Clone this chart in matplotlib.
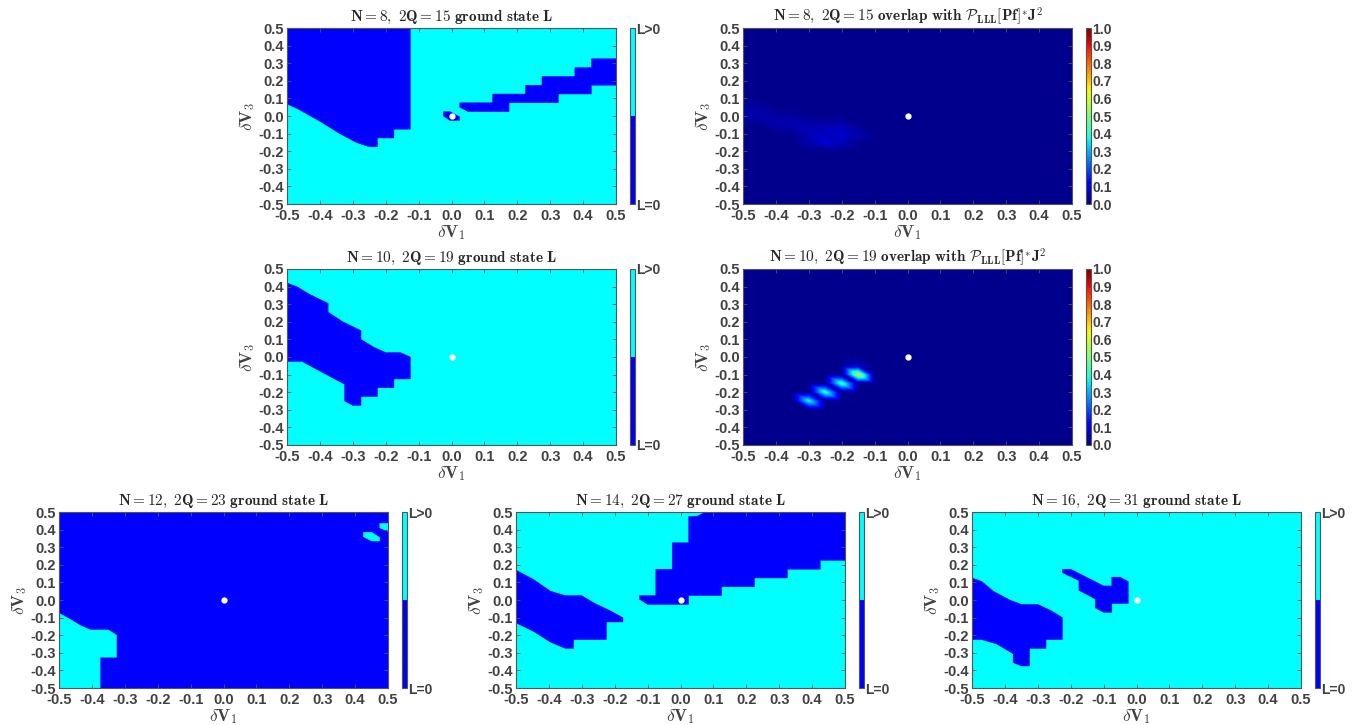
import numpy as np
import matplotlib
matplotlib.use("Agg")
import matplotlib.pyplot as plt
import matplotlib.tri as mtri
from matplotlib.colors import ListedColormap, Normalize
from matplotlib.cm import ScalarMappable

plt.rcParams['mathtext.fontset'] = 'cm'
plt.rcParams['axes.unicode_minus'] = False
plt.rcParams['font.family'] = 'Liberation Sans'
plt.rcParams['font.weight'] = 'bold'

# ---------------- data ----------------
TICKS = np.round(np.arange(-0.5, 0.501, 0.1), 1) + 0.0
CB_TICKS = np.round(np.arange(0.0, 1.001, 0.1), 1) + 0.0
L_COLORS = ['#0000ff', '#00ffff']       # L=0, L>0
ORIGIN = (0.0, 0.0)                     # reference point (white dot)

# ground state maps: boundaries of the minority phase, (dV1, dV3) vertices
# N=8, 2Q=15 : L>0 background, L=0 patches
n8_base = 1
n8_patches = [
    [(-0.5, 0.5), (-0.125, 0.5), (-0.125, -0.075), (-0.175, -0.075), (-0.175, -0.125),
     (-0.225, -0.125), (-0.225, -0.175), (-0.25, -0.175), (-0.29, -0.15), (-0.34, -0.1),
     (-0.4, -0.03), (-0.47, 0.043), (-0.5, 0.068)],
    [(0.025, 0.075), (0.125, 0.075), (0.125, 0.125), (0.225, 0.125), (0.225, 0.175),
     (0.275, 0.175), (0.275, 0.225), (0.375, 0.225), (0.375, 0.275), (0.425, 0.275),
     (0.425, 0.325), (0.5, 0.325), (0.5, 0.175), (0.425, 0.175), (0.425, 0.125),
     (0.325, 0.125), (0.325, 0.075), (0.175, 0.075), (0.175, 0.025), (0.05, 0.025),
     (0.025, 0.05)],
    [(-0.025, 0.025), (-0.005, 0.025), (0.025, -0.005), (0.025, -0.025), (-0.005, -0.025),
     (-0.025, 0.0)],
]
# N=10, 2Q=19
n10_base = 1
n10_patches = [
    [(-0.5, 0.42), (-0.47, 0.40), (-0.43, 0.355), (-0.375, 0.305), (-0.375, 0.255),
     (-0.33, 0.2), (-0.275, 0.15), (-0.275, 0.1), (-0.235, 0.055), (-0.2, 0.025),
     (-0.155, 0.025), (-0.125, 0.0), (-0.125, -0.125), (-0.175, -0.125), (-0.175, -0.175),
     (-0.225, -0.175), (-0.225, -0.225), (-0.275, -0.225), (-0.275, -0.275), (-0.3, -0.275),
     (-0.325, -0.25), (-0.325, -0.155), (-0.38, -0.1), (-0.455, -0.025), (-0.5, -0.025)],
]
# N=12, 2Q=23 : L=0 background, L>0 patches
n12_base = 0
n12_patches = [
    [(-0.5, -0.075), (-0.47, -0.105), (-0.435, -0.145), (-0.405, -0.17), (-0.35, -0.17),
     (-0.325, -0.2), (-0.325, -0.325), (-0.375, -0.325), (-0.375, -0.5), (-0.5, -0.5)],
    [(0.425, 0.385), (0.45, 0.385), (0.475, 0.355), (0.475, 0.335), (0.45, 0.335),
     (0.425, 0.36)],
    [(0.475, 0.435), (0.5, 0.435), (0.5, 0.39), (0.475, 0.41)],
]
# N=14, 2Q=27
n14_base = 1
n14_patches = [
    [(-0.5, 0.17), (-0.445, 0.115), (-0.395, 0.05), (-0.35, 0.025), (-0.3, 0.025),
     (-0.26, -0.02), (-0.22, -0.055), (-0.175, -0.1), (-0.175, -0.125), (-0.225, -0.125),
     (-0.225, -0.225), (-0.325, -0.225), (-0.325, -0.275), (-0.35, -0.275), (-0.395, -0.24),
     (-0.445, -0.18), (-0.5, -0.13)],
    [(0.075, 0.5), (0.05, 0.475), (0.025, 0.475), (0.025, 0.325), (-0.025, 0.325),
     (-0.025, 0.175), (-0.075, 0.175), (-0.075, 0.025), (-0.125, 0.025), (-0.125, 0.005),
     (-0.1, -0.025), (0.025, -0.025), (0.025, 0.025), (0.125, 0.025), (0.125, 0.075),
     (0.225, 0.075), (0.225, 0.125), (0.325, 0.125), (0.325, 0.175), (0.425, 0.175),
     (0.425, 0.225), (0.5, 0.225), (0.5, 0.5)],
]
# N=16, 2Q=31
n16_base = 1
n16_patches = [
    [(-0.5, 0.125), (-0.47, 0.105), (-0.435, 0.05), (-0.385, 0.0), (-0.35, -0.025),
     (-0.3, -0.025), (-0.26, -0.06), (-0.225, -0.1), (-0.225, -0.225), (-0.275, -0.225),
     (-0.275, -0.275), (-0.325, -0.275), (-0.325, -0.375), (-0.35, -0.375), (-0.375, -0.355),
     (-0.375, -0.305), (-0.425, -0.25), (-0.47, -0.225), (-0.5, -0.225)],
    [(-0.225, 0.175), (-0.2, 0.175), (-0.1, 0.08), (-0.075, 0.08), (-0.075, 0.13),
     (-0.05, 0.13), (-0.025, 0.105), (-0.025, -0.02), (-0.075, -0.02), (-0.075, -0.07),
     (-0.1, -0.07), (-0.125, -0.045), (-0.125, 0.005), (-0.175, 0.055), (-0.175, 0.11),
     (-0.225, 0.155)],
]

# overlap with P_LLL[Pf]* J^2, sampled on a 0.05 grid: (dV1, dV3, overlap)
GRID_STEP = 0.05
ov8_background = 0.015
ov8_points = [
    (-0.5, 0.05, 0.035), (-0.45, 0.05, 0.03),
    (-0.5, 0.0, 0.04), (-0.45, 0.0, 0.04), (-0.4, 0.0, 0.035), (-0.35, 0.0, 0.03),
    (-0.4, -0.05, 0.04), (-0.35, -0.05, 0.045), (-0.3, -0.05, 0.045), (-0.25, -0.05, 0.04),
    (-0.2, -0.05, 0.045),
    (-0.3, -0.1, 0.05), (-0.25, -0.1, 0.055), (-0.2, -0.1, 0.07), (-0.15, -0.1, 0.045),
    (-0.25, -0.15, 0.075), (-0.2, -0.15, 0.05), (-0.3, -0.15, 0.04),
]
ov10_background = 0.015
ov10_points = [
    (-0.15, -0.1, 0.58), (-0.2, -0.15, 0.44), (-0.25, -0.2, 0.42), (-0.3, -0.25, 0.38),
    (-0.15, -0.05, 0.06),
]

# ---------------- layout (pixels of a 1371x725 canvas) ----------------
W, H = 1371, 725
AX_W, AX_H = 329, 176
panel_px = {
    'n8': (287, 28), 'ov8': (743, 28),
    'n10': (287, 269), 'ov10': (743, 269),
    'n12': (59, 512), 'n14': (516, 512), 'n16': (972, 512),
}
GRAY = '#404040'
EDGE = '#555555'

fig = plt.figure(figsize=(W / 100, H / 100), dpi=100)


def make_axes(key):
    x, y = panel_px[key]
    ax = fig.add_axes([x / W, 1 - (y + AX_H) / H, AX_W / W, AX_H / H])
    cax = fig.add_axes([(x + AX_W + 14) / W, 1 - (y + AX_H) / H, 5 / W, AX_H / H])
    return ax, cax


def style_axes(ax, title):
    ax.set_xlim(-0.5, 0.5)
    ax.set_ylim(-0.5, 0.5)
    ax.set_xticks(TICKS)
    ax.set_yticks(TICKS)
    ax.set_xticklabels([f'{t:.1f}' for t in TICKS])
    ax.set_yticklabels([f'{t:.1f}' for t in TICKS])
    ax.tick_params(direction='in', length=3, width=0.6, color=EDGE, labelcolor=GRAY,
                   labelsize=10.5, top=True, right=True, pad=2)
    ax.tick_params(axis='x', pad=3.5)
    for s in ax.spines.values():
        s.set_color(EDGE)
        s.set_linewidth(0.8)
    ax.set_xlabel(r'$\delta\mathbf{V}_\mathbf{1}$', fontsize=12.5, color=GRAY, labelpad=0)
    ax.set_ylabel(r'$\delta\mathbf{V}_\mathbf{3}$', fontsize=12.5, color=GRAY, labelpad=1)
    ax.set_title(title, fontsize=11, color='#262626', pad=5)
    ax.plot(*ORIGIN, 'o', color='white', ms=3.5, mec='white', zorder=5)


def style_cbar(cax):
    cax.tick_params(length=0, labelcolor=GRAY, labelsize=10, pad=1)
    cax.yaxis.set_ticks_position('right')


def draw_L(key, N, q2, base, patches):
    ax, cax = make_axes(key)
    ax.set_facecolor(L_COLORS[base])
    for poly in patches:
        xs, ys = zip(*poly)
        ax.fill(xs, ys, color=L_COLORS[1 - base], lw=0.3, ec=L_COLORS[1 - base])
    style_axes(ax, rf'$\mathbf{{N={N},\ 2Q={q2}\ ground\ state\ L}}$')
    cb = fig.colorbar(ScalarMappable(Normalize(0, 1), ListedColormap(L_COLORS)),
                      cax=cax, ticks=[0, 1])
    cb.set_ticklabels(['L=0', 'L>0'])
    cb.outline.set_edgecolor(EDGE)
    style_cbar(cax)


def overlap_field(background, points):
    g = np.round(np.arange(-0.5, 0.5 + 1e-9, GRID_STEP), 2)
    n = len(g)
    X, Y = np.meshgrid(g, g)
    Z = np.full(X.shape, background)
    for v1, v3, val in points:
        Z[int(round((v3 + 0.5) / GRID_STEP)), int(round((v1 + 0.5) / GRID_STEP))] = val
    tris = []
    for j in range(n - 1):
        for i in range(n - 1):
            bl, br = j * n + i, j * n + i + 1
            tl, tr = (j + 1) * n + i, (j + 1) * n + i + 1
            tris += [[bl, br, tl], [br, tr, tl]]
    tri = mtri.Triangulation(X.ravel(), Y.ravel(), np.array(tris))
    interp = mtri.LinearTriInterpolator(tri, Z.ravel())
    f = np.linspace(-0.5, 0.5, 501)
    FX, FY = np.meshgrid(f, f)
    return np.asarray(interp(FX, FY))


def draw_overlap(key, N, q2, background, points):
    ax, cax = make_axes(key)
    FZ = overlap_field(background, points)
    im = ax.imshow(FZ, extent=(-0.5, 0.5, -0.5, 0.5), origin='lower', aspect='auto',
                   cmap='jet', vmin=0, vmax=1, interpolation='bilinear')
    style_axes(ax, rf'$\mathbf{{N={N},\ 2Q={q2}\ overlap\ with\ }}'
                   r'\mathcal{P}_{\mathbf{LLL}}[\mathbf{Pf}]^{*}\mathbf{J}^{\mathbf{2}}$')
    cb = fig.colorbar(im, cax=cax, ticks=CB_TICKS)
    cb.set_ticklabels([f'{t:.1f}' for t in CB_TICKS])
    cb.outline.set_edgecolor(EDGE)
    style_cbar(cax)


draw_L('n8', 8, 15, n8_base, n8_patches)
draw_overlap('ov8', 8, 15, ov8_background, ov8_points)
draw_L('n10', 10, 19, n10_base, n10_patches)
draw_overlap('ov10', 10, 19, ov10_background, ov10_points)
draw_L('n12', 12, 23, n12_base, n12_patches)
draw_L('n14', 14, 27, n14_base, n14_patches)
draw_L('n16', 16, 31, n16_base, n16_patches)

fig.savefig('out.png', dpi=100)
